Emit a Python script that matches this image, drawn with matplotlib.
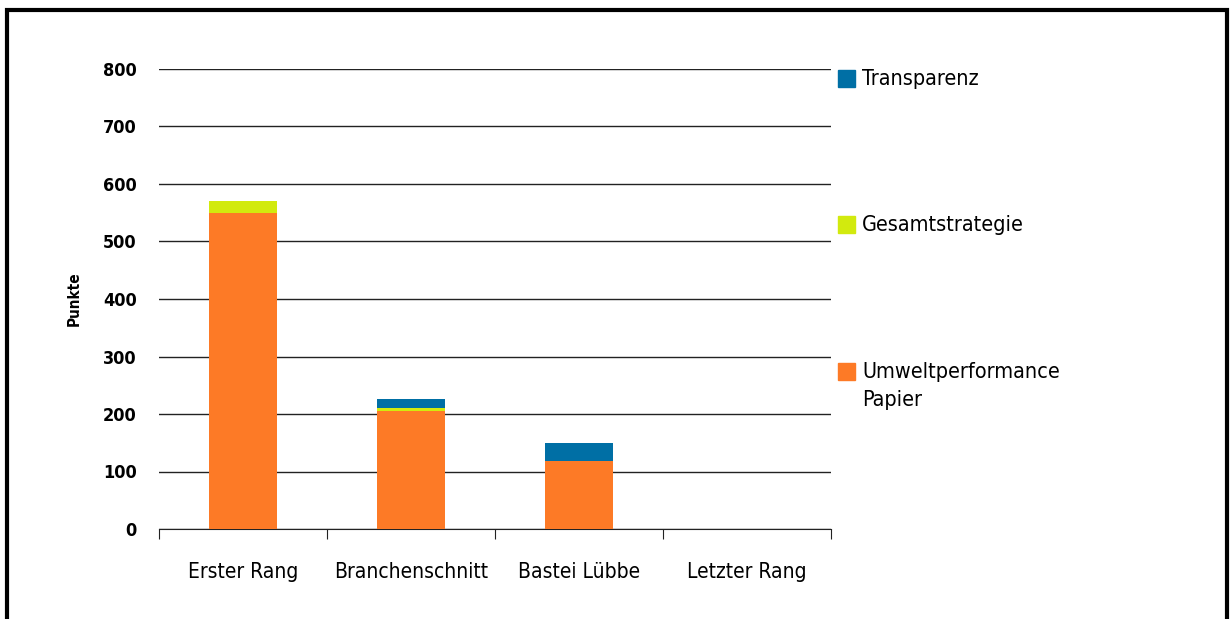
import matplotlib.pyplot as plt
import matplotlib.patches as mpatches
import numpy as np

#--------------------------------------------------------------------#
# Data
categories = ["Erster Rang", "Branchenschnitt", "Bastei Lübbe", "Letzter Rang"]
umwelt = [550, 206, 118, 0]
gesamt = [20, 4, 0, 0]
transparenz = [0, 16, 32, 0]

series_labels = ["Umweltperformance\nPapier", "Gesamtstrategie", "Transparenz"]
colors = ["#FD7A26", "#D2EA0E", "#006FA5"]
yticks = [0, 100, 200, 300, 400, 500, 600, 700, 800]

plt.rcParams['font.family'] = ['DejaVu Sans']
plt.rcParams['font.stretch'] = 'condensed'

#--------------------------------------------------------------------#
fig = plt.figure(figsize=(12.32, 6.19), dpi=100)
ax = fig.add_axes([159/1232, 90/619, 672/1232, 460/619])

x = np.arange(len(categories))
bottom = np.zeros(len(categories))
for vals, col in zip([umwelt, gesamt, transparenz], colors):
    ax.bar(x, vals, width=0.4, bottom=bottom, color=col, zorder=3)
    bottom += np.array(vals)

ax.set_xlim(-0.5, 3.5)
ax.set_ylim(0, 800)
ax.set_yticks(yticks)
ax.set_yticklabels([str(v) for v in yticks], fontsize=13, fontweight="bold",
                   fontstretch="condensed")
ax.tick_params(axis="y", length=0, pad=16)
ax.yaxis.grid(True, color="#222222", linewidth=1)
ax.set_axisbelow(True)

# category labels between boundary ticks
ax.set_xticks(np.arange(-0.5, 4, 1))
ax.set_xticklabels([])
ax.set_xticks(x, minor=True)
ax.set_xticklabels(categories, minor=True, fontsize=15, fontstretch="condensed")
ax.tick_params(axis="x", which="major", length=7, color="#222222", direction="out")
ax.tick_params(axis="x", which="minor", length=0, pad=24)

for s in ["top", "right", "left"]:
    ax.spines[s].set_visible(False)
ax.spines["bottom"].set_color("#222222")

ax.set_ylabel("Punkte", fontsize=11, fontweight="bold", labelpad=15,
              fontstretch="condensed")

# legend drawn by hand (entries spaced out vertically)
entries = [(series_labels[2], colors[2], 619 - 79),
           (series_labels[1], colors[1], 619 - 225),
           (series_labels[0], colors[0], 619 - 372)]
for label, col, ypix in entries:
    fig.patches.append(mpatches.Rectangle((838/1232, (ypix - 8)/619), 17/1232, 17/619,
                                          transform=fig.transFigure, color=col))
    fig.text(862/1232, (ypix + 10)/619, label, fontsize=15.5, va="top", ha="left",
             linespacing=1.5, fontstretch="condensed")

# outer frame
fig.patches.append(mpatches.Rectangle((6.5/1232, -0.05), 1220/1232, (619 - 9.5)/619 + 0.05,
                                      transform=fig.transFigure, fill=False,
                                      edgecolor="black", linewidth=3))

fig.savefig("out.png", dpi=100)
